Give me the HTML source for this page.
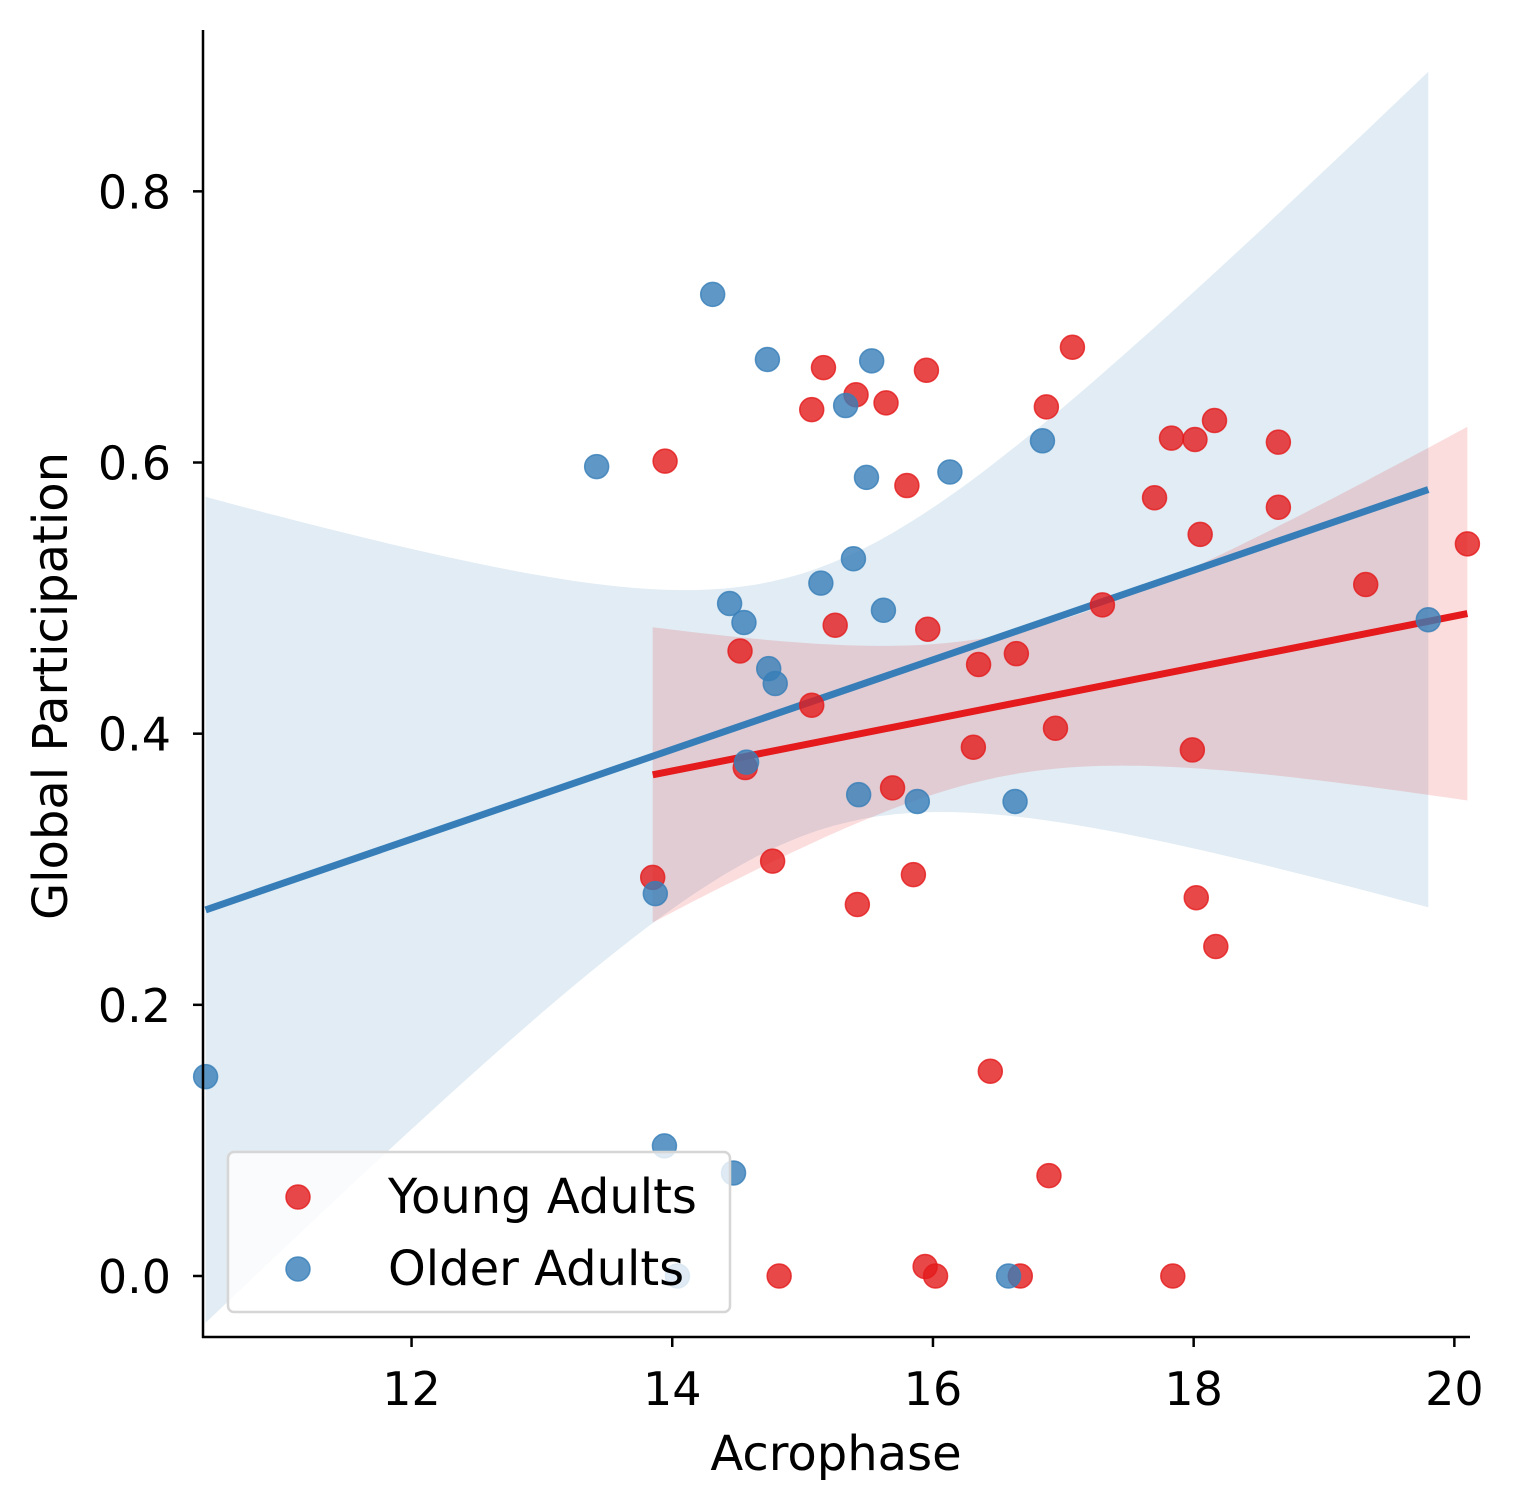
<!DOCTYPE html>
<html><head><meta charset="utf-8"><style>
body{margin:0;background:#fff;}
svg{display:block;font-family:"DejaVu Sans","Liberation Sans",sans-serif;}
</style></head><body>
<svg id="chart" width="1516" height="1510" viewBox="0 0 1516 1510">
<defs><clipPath id="plotclip"><rect x="203" y="30" width="1267" height="1307"/></clipPath></defs>
<g id="bands" clip-path="url(#plotclip)"></g>
<g id="lines" clip-path="url(#plotclip)"></g>
<g id="points"></g>
<g id="axes"></g>
<g id="legend"></g>
</svg>
<script>
const youngX=[13.945,15.16,15.07,15.41,15.64,15.95,17.07,16.87,15.80,17.83,18.01,18.16,18.65,17.70,18.65,18.05,20.10,19.32,17.30,15.25,15.96,14.52,16.35,16.64,15.07,16.31,16.94,17.99,14.56,15.69,13.85,14.77,15.85,15.42,18.02,18.17,16.44,16.89,14.82,15.94,16.02,16.67,17.84];
const youngY=[0.601,0.670,0.639,0.650,0.644,0.668,0.685,0.641,0.583,0.618,0.617,0.631,0.615,0.574,0.567,0.547,0.540,0.510,0.495,0.480,0.477,0.461,0.451,0.459,0.421,0.390,0.404,0.388,0.375,0.360,0.294,0.306,0.296,0.274,0.279,0.243,0.151,0.074,0,0.007,0,0,0];
const olderX=[14.31,14.73,15.53,15.33,13.42,16.84,15.49,16.13,15.39,15.14,14.44,14.55,15.62,14.74,14.79,14.57,15.43,15.88,16.63,13.87,19.80,10.42,13.94,14.47,14.04,16.58];
const olderY=[0.724,0.676,0.675,0.642,0.597,0.616,0.589,0.593,0.529,0.511,0.496,0.482,0.491,0.448,0.437,0.379,0.355,0.350,0.350,0.282,0.484,0.147,0.096,0.076,0,0];
const xTicks=[12,14,16,18,20];
const yTicks=[0.0,0.2,0.4,0.6,0.8];
const seriesNames=["Young Adults","Older Adults"];

const NS="http://www.w3.org/2000/svg";
const X0=203,X1=1470,Y0=1337,Y1=30;
const xmin=10.40,xmax=20.12,ymin=-0.045,ymax=0.919;
const sx=v=>X0+(v-xmin)/(xmax-xmin)*(X1-X0);
const sy=v=>Y0-(v-ymin)/(ymax-ymin)*(Y0-Y1);
function mk(tag,attrs,parent){const e=document.createElementNS(NS,tag);for(const k in attrs)e.setAttribute(k,attrs[k]);parent.appendChild(e);return e;}

function fit(xs,ys){
  const n=xs.length;const mx=xs.reduce((a,b)=>a+b)/n,my=ys.reduce((a,b)=>a+b)/n;
  let sxx=0,sxy=0;for(let i=0;i<n;i++){sxx+=(xs[i]-mx)**2;sxy+=(xs[i]-mx)*(ys[i]-my);}
  const b=sxy/sxx,a=my-b*mx;let sse=0;for(let i=0;i<n;i++)sse+=(ys[i]-a-b*xs[i])**2;
  const s=Math.sqrt(sse/(n-2));return {a,b,mx,sxx,s,n,lo:Math.min(...xs),hi:Math.max(...xs)};
}
const series=[{name:"young",xs:youngX,ys:youngY,col:"#e41a1c",band:"rgba(228,26,28,0.15)",t:1.6},{name:"older",xs:olderX,ys:olderY,col:"#377eb8",band:"rgba(55,126,184,0.15)",t:2.35}];
const bands=document.getElementById('bands'),lines=document.getElementById('lines'),pts=document.getElementById('points');
series.slice().reverse().forEach(s=>{
  const f=fit(s.xs,s.ys);const t=s.t;const N=80;let up=[],dn=[];
  for(let i=0;i<=N;i++){const x=f.lo+(f.hi-f.lo)*i/N;const yh=f.a+f.b*x;const se=f.s*Math.sqrt(1/f.n+(x-f.mx)**2/f.sxx);
    up.push(sx(x).toFixed(1)+","+sy(yh+t*se).toFixed(1));dn.unshift(sx(x).toFixed(1)+","+sy(yh-t*se).toFixed(1));}
  const p=mk('polygon',{points:up.concat(dn).join(' '),fill:s.band},bands);
  
  
  s.fit=f;
});
series.forEach(s=>{
  s.xs.forEach((x,i)=>{const c=mk('circle',{cx:sx(x),cy:sy(s.ys[i]),r:12,fill:s.col,'fill-opacity':0.8,stroke:s.col,'stroke-width':1.5,'stroke-opacity':0.8},pts);
    
    });
});
series.slice().reverse().forEach(s=>{const f=s.fit;
  const l=mk('line',{x1:sx(f.lo),y1:sy(f.a+f.b*f.lo),x2:sx(f.hi),y2:sy(f.a+f.b*f.hi),stroke:s.col,'stroke-width':7},lines);
  
  });

const ax=document.getElementById('axes');
mk('line',{x1:X0,y1:Y1,x2:X0,y2:Y0+1,stroke:'#000','stroke-width':2.5},ax);
mk('line',{x1:X0-1,y1:Y0,x2:X1,y2:Y0,stroke:'#000','stroke-width':2.5},ax);
xTicks.forEach(v=>{mk('line',{x1:sx(v),y1:Y0,x2:sx(v),y2:Y0+10,stroke:'#000','stroke-width':2.5},ax);
  const t=mk('text',{x:sx(v),y:1405,'font-size':46,'text-anchor':'middle'},ax);t.textContent=v;
  
  });
yTicks.forEach(v=>{mk('line',{x1:X0-10,y1:sy(v),x2:X0,y2:sy(v),stroke:'#000','stroke-width':2.5},ax);
  const t=mk('text',{x:X0-32,y:sy(v)+17,'font-size':46,'text-anchor':'end'},ax);t.textContent=v.toFixed(1);
  
  });
const xt=mk('text',{x:836,y:1470,'font-size':48,'text-anchor':'middle'},ax);xt.textContent='Acrophase';


const yt=mk('text',{x:0,y:0,'font-size':48,'text-anchor':'middle',transform:'translate(67,686) rotate(-90)'},ax);yt.textContent='Global Participation';



const lg=document.getElementById('legend');
mk('rect',{x:228,y:1152,width:502,height:160,rx:6,fill:'rgba(255,255,255,0.8)',stroke:'#d6d6d6','stroke-width':2.5},lg);
seriesNames.forEach((n,i)=>{const y=1197+i*72;
  const c=mk('circle',{cx:298,cy:y,r:12,fill:series[i].col,'fill-opacity':0.8,stroke:series[i].col,'stroke-opacity':0.8,'stroke-width':1.5},lg);
  
  
  const t=mk('text',{x:388,y:y+16,'font-size':48},lg);t.textContent=n;
  
  });
</script>
</body></html>
